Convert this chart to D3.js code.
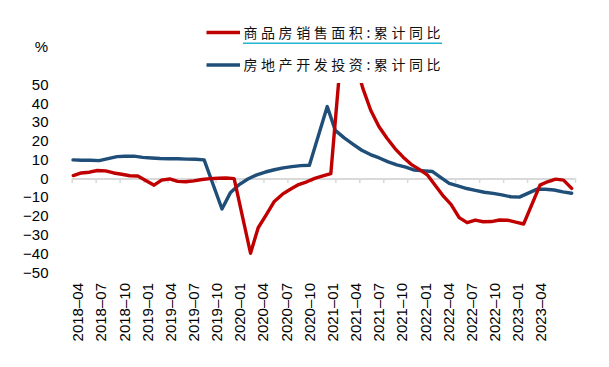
<!DOCTYPE html>
<html>
<head>
<meta charset="utf-8">
<script src="https://cdn.jsdelivr.net/npm/d3@7"></script>
<style>
  html, body { margin: 0; padding: 0; background: #fff; }
  svg { display: block; }
</style>
</head>
<body>
<svg id="chart" width="609" height="367"></svg>
<script>
// ---------------- data ----------------
const salesName = "商品房销售面积:累计同比";
const investName = "房地产开发投资:累计同比";

const salesDates = [
  "2018-04","2018-05","2018-06","2018-07","2018-08","2018-09","2018-10","2018-11","2018-12",
  "2019-02","2019-03","2019-04","2019-05","2019-06","2019-07","2019-08","2019-09","2019-10","2019-11","2019-12",
  "2020-02","2020-03","2020-04","2020-05","2020-06","2020-07","2020-08","2020-09","2020-10","2020-11","2020-12",
  "2021-02","2021-03","2021-04","2021-05","2021-06","2021-07","2021-08","2021-09","2021-10","2021-11","2021-12",
  "2022-02","2022-03","2022-04","2022-05","2022-06","2022-07","2022-08","2022-09","2022-10","2022-11","2022-12",
  "2023-02","2023-03","2023-04","2023-05","2023-06"
];
const salesValues = [
  1.5, 2.9, 3.3, 4.2, 4.0, 2.9, 2.2, 1.4, 1.3,
  -3.6, -0.9, -0.3, -1.6, -1.8, -1.3, -0.6, -0.1, 0.1, 0.2, -0.1,
  -39.9, -26.3, -19.3, -12.3, -8.4, -5.8, -3.3, -1.8, 0.0, 1.3, 2.6,
  104.9, 63.8, 48.1, 36.3, 27.7, 21.5, 15.9, 11.3, 7.5, 4.8, 1.9,
  -9.6, -13.8, -20.9, -23.6, -22.2, -23.1, -23.0, -22.2, -22.3, -23.3, -24.3,
  -3.6, -1.8, -0.4, -0.9, -5.3
];

const investDates = [
  "2018-09","2018-10","2018-11","2018-12",
  "2019-02","2019-03","2019-04","2019-05","2019-06","2019-07","2019-08","2019-09","2019-10","2019-11","2019-12",
  "2020-02","2020-03","2020-04","2020-05","2020-06","2020-07","2020-08","2020-09","2020-10","2020-11","2020-12",
  "2021-02","2021-03","2021-04","2021-05","2021-06","2021-07","2021-08","2021-09","2021-10","2021-11","2021-12",
  "2022-02","2022-03","2022-04","2022-05","2022-06","2022-07","2022-08","2022-09","2022-10","2022-11","2022-12",
  "2023-02","2023-03","2023-04","2023-05","2023-06"
];
const investValues = [
  9.9, 9.7, 9.7, 9.5,
  11.6, 11.8, 11.9, 11.2, 10.9, 10.6, 10.5, 10.5, 10.3, 10.2, 9.9,
  -16.3, -7.7, -3.3, -0.3, 1.9, 3.4, 4.6, 5.6, 6.3, 6.8, 7.0,
  38.3, 25.6, 21.6, 18.3, 15.0, 12.7, 10.9, 8.8, 7.2, 6.0, 4.4,
  3.7, 0.7, -2.7, -4.0, -5.4, -6.4, -7.4, -8.0, -8.8, -9.8, -10.0,
  -5.7, -5.8, -6.2, -7.2, -7.9
];

const xTickLabels = [
  "2018–04","2018–07","2018–10","2019–01","2019–04","2019–07","2019–10",
  "2020–01","2020–04","2020–07","2020–10","2021–01","2021–04","2021–07","2021–10",
  "2022–01","2022–04","2022–07","2022–10","2023–01","2023–04"
];
const yTicks = [50, 40, 30, 20, 10, 0, -10, -20, -30, -40, -50];
const tickCount = 22;

// ---------------- drawing ----------------
const svg = d3.select("#chart");
const parse = d3.timeParse("%Y-%m");
const numFont = "'Liberation Sans', Arial, sans-serif";
const cjkFont = "'Noto Sans CJK SC', sans-serif";

const y = d3.scaleLinear().domain([-50, 50]).range([272.2, 84.6]);
const xSales = d3.scaleTime()
  .domain([parse(salesDates[0]), parse(salesDates[salesDates.length - 1])])
  .range([73.3, 571.7]);
const xInvest = d3.scaleTime()
  .domain([parse(investDates[0]), parse(investDates[investDates.length - 1])])
  .range([73.0, 571.7]);
const xTick = d3.scaleLinear().domain([0, tickCount - 1]).range([71.7, 575]);
const xLabel = d3.scalePoint().domain(xTickLabels).range([77.5, 540.5]);

// zero axis with tick marks
const axisG = svg.append("g").attr("transform", `translate(0,${y(0)})`)
  .call(d3.axisBottom(xTick).tickValues(d3.range(tickCount)).tickSize(4.5).tickSizeOuter(0).tickFormat(""));
axisG.select(".domain").attr("stroke", "#d9d9d9").attr("stroke-width", 2);
axisG.selectAll(".tick line").attr("stroke", "#d9d9d9").attr("stroke-width", 1.5);

// x labels
const labG = svg.append("g").attr("transform", "translate(0,283)")
  .call(d3.axisBottom(xLabel).tickSize(0).tickPadding(0));
labG.select(".domain").remove();
labG.selectAll(".tick text")
  .attr("transform", "rotate(-90)")
  .attr("x", 0).attr("y", 0).attr("dy", "0.35em")
  .attr("text-anchor", "end")
  .attr("fill", "#000")
  .style("font-family", numFont).style("font-size", "15px");

// y labels
const yG = svg.append("g").attr("transform", "translate(48.5,0)")
  .call(d3.axisLeft(y).tickValues(yTicks).tickSize(0).tickPadding(0)
    .tickFormat(d => d < 0 ? "−" + Math.abs(d) : String(d)));
yG.select(".domain").remove();
yG.selectAll(".tick text").attr("fill", "#000")
  .style("font-family", numFont).style("font-size", "15px");

svg.append("text").attr("x", 48).attr("y", 47).attr("dy", "0.35em")
  .attr("text-anchor", "end").attr("fill", "#000")
  .style("font-family", numFont).style("font-size", "15px").text("%");

// clip
svg.append("clipPath").attr("id", "plotClip")
  .append("rect").attr("x", 60).attr("y", 83).attr("width", 540).attr("height", 200);

const plot = svg.append("g").attr("clip-path", "url(#plotClip)");

const salesData = salesDates.map((d, i) => ({ date: parse(d), value: salesValues[i] }));
const investData = investDates.map((d, i) => ({ date: parse(d), value: investValues[i] }));

plot.append("path").datum(investData)
  .attr("fill", "none").attr("stroke", "#1F4E79").attr("stroke-width", 3.4)
  .attr("stroke-linejoin", "round").attr("stroke-linecap", "round")
  .attr("d", d3.line().x(d => xInvest(d.date)).y(d => y(d.value)));

plot.append("path").datum(salesData)
  .attr("fill", "none").attr("stroke", "#C00000").attr("stroke-width", 3.4)
  .attr("stroke-linejoin", "round").attr("stroke-linecap", "round")
  .attr("d", d3.line().x(d => xSales(d.date)).y(d => y(d.value)));

// legend
const legend = [
  { name: salesName, color: "#C00000", y: 32.5 },
  { name: investName, color: "#1F4E79", y: 65 }
];
legend.forEach(l => {
  svg.append("line").attr("x1", 206.5).attr("x2", 240).attr("y1", l.y).attr("y2", l.y)
    .attr("stroke", l.color).attr("stroke-width", 3.4);
  svg.append("text").attr("x", 243.5).attr("y", l.y).attr("dy", "0.36em")
    .attr("textLength", 197).attr("lengthAdjust", "spacing")
    .attr("fill", "#111")
    .style("font-family", cjkFont).style("font-size", "14px")
    .text(l.name);
});
svg.append("line").attr("x1", 243).attr("x2", 442).attr("y1", 43.3).attr("y2", 43.3)
  .attr("stroke", "#22b4d0").attr("stroke-width", 1.6);
</script>
</body>
</html>
